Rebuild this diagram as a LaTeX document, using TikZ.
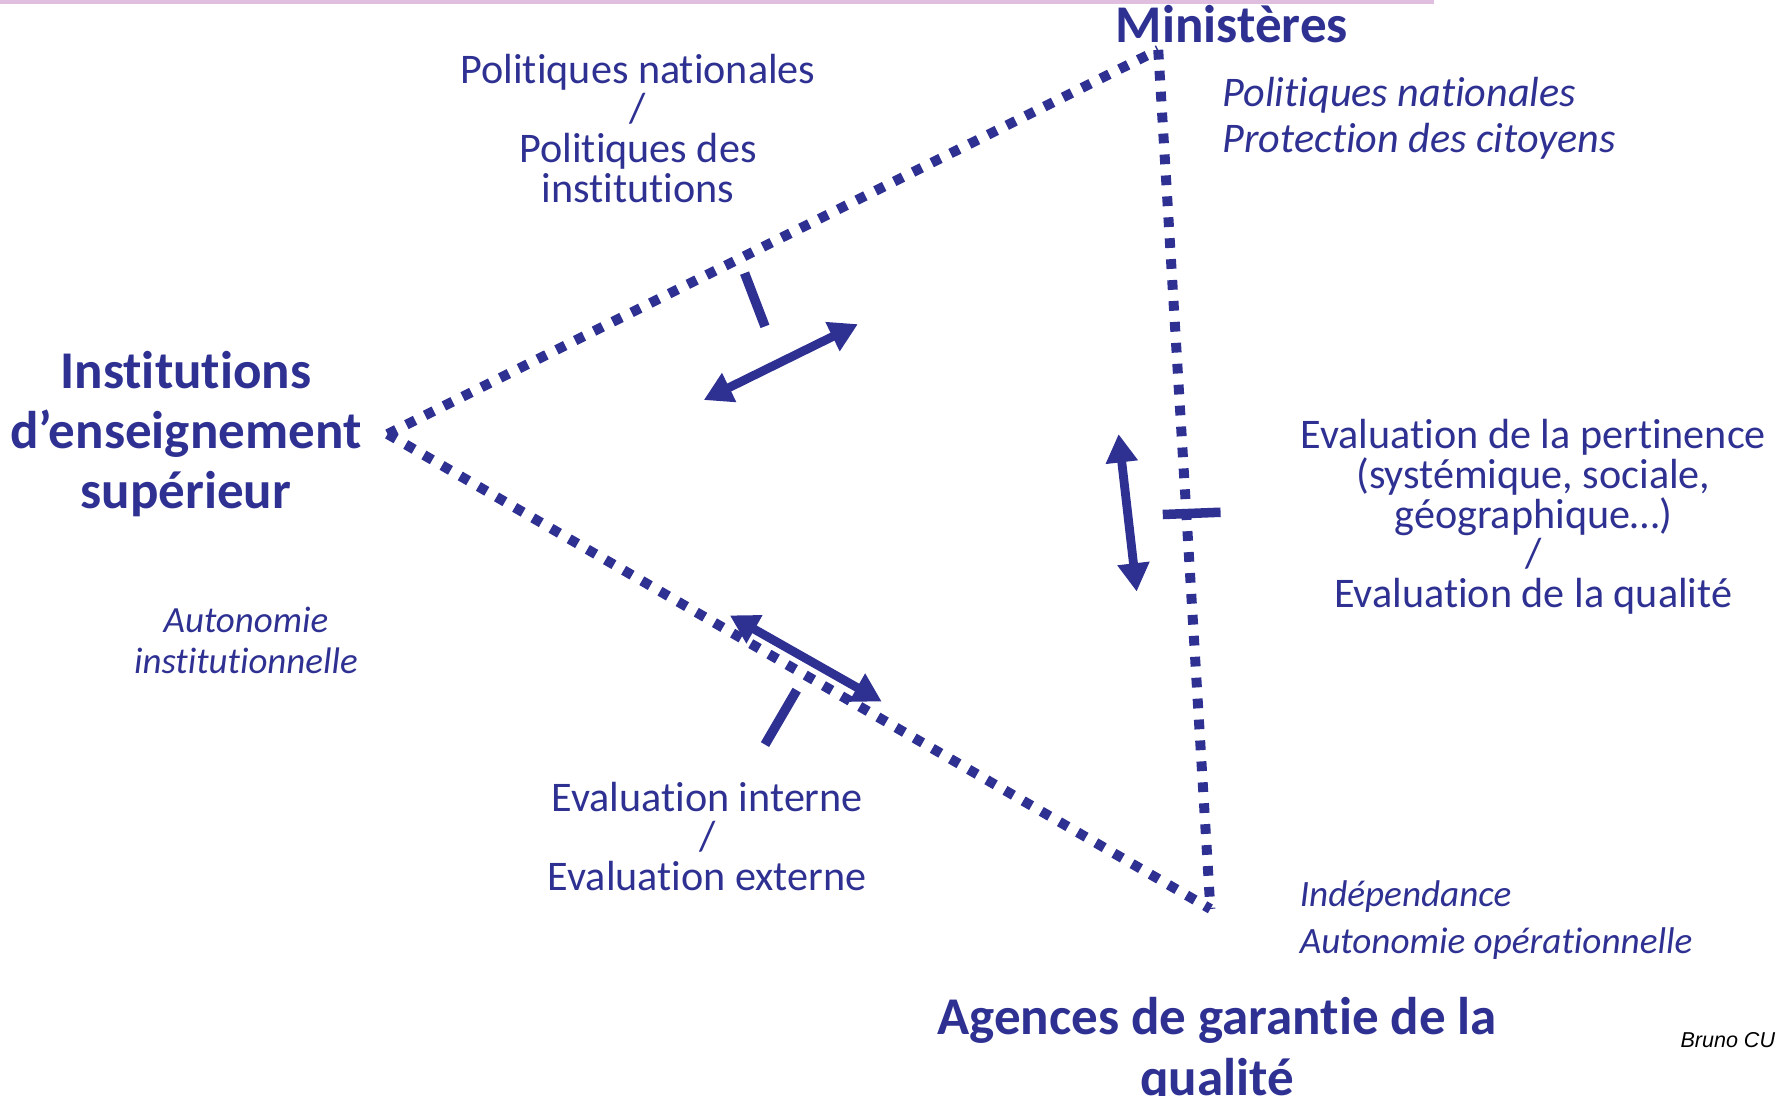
\documentclass[tikz,border=0pt]{standalone}
\usepackage{fontspec}
\setmainfont{Carlito}[Ligatures=NoCommon]
\newfontfamily\arialfont{Liberation Sans}
\usetikzlibrary{arrows.meta}
\definecolor{bleuQA}{RGB}{46,49,146}
\definecolor{roseQA}{RGB}{224,190,224}

\tikzset{
  pointille/.style={draw=bleuQA, line width=4.4pt, dash pattern=on 4.3pt off 4.95pt},
  fleche/.style={draw=bleuQA, line width=3.9pt, {Triangle[length=12.5pt,width=13.5pt]}-{Triangle[length=12.5pt,width=13.5pt]}},
  trait/.style={draw=bleuQA, line width=4.2pt},
  titre/.style={text=bleuQA, font=\fontsize{23.4}{26.5}\selectfont\bfseries, align=center, inner sep=0.75pt},
  texte/.style={text=bleuQA, font=\fontsize{18.6}{17.5}\selectfont, align=center, inner sep=0.75pt},
  note/.style={text=bleuQA, font=\fontsize{18.6}{20.5}\selectfont\itshape, align=left, inner sep=0.75pt},
  petitenote/.style={text=bleuQA, font=\fontsize{16.3}{18}\selectfont\itshape, align=center, inner sep=0.75pt}
}

\begin{document}
\begin{tikzpicture}[x=0.5pt,y=0.5pt,yscale=-1,xscale=1]
\useasboundingbox (0,0) rectangle (1568,967);

%Shape: Rectangle (top band)
\fill [roseQA] (0,0) rectangle (1265,3.5);

% corners of the triangle
\coordinate (ies) at (342,383);
\coordinate (min) at (1022,44);
\coordinate (agq) at (1068,802);

%Straight Lines
\draw [pointille] (ies) -- (min);
\draw [pointille] (min) -- (agq);
\draw [pointille] (ies) -- (agq);

% ends of the marks and arrows
\coordinate (t1a) at (657,241);
\coordinate (t1b) at (675,288);
\coordinate (f1a) at (621,353);
\coordinate (f1b) at (757,286);
\coordinate (t2a) at (1026,454);
\coordinate (t2b) at (1077,452);
\coordinate (f2a) at (987,383);
\coordinate (f2b) at (1003,522);
\coordinate (t3a) at (703,609);
\coordinate (t3b) at (675,657);
\coordinate (f3a) at (644,543);
\coordinate (f3b) at (778,619);

%Straight Lines
\draw [trait] (t1a) -- (t1b);
\draw [trait] (t2a) -- (t2b);
\draw [trait] (t3a) -- (t3b);
%Double arrows
\draw [fleche] (f1a) -- (f1b);
\draw [fleche] (f2a) -- (f2b);
\draw [fleche] (f3a) -- (f3b);

% Text Node
\draw (1087,21) node (ministeres) [titre] {Ministères};
% Text Node
\draw (164,383) node (institutions) [titre] {Institutions\\d’enseignement\\supérieur};
% Text Node
\draw (1074,927) node (agences) [titre] {Agences de garantie de la\\qualité};
% Text Node
\draw (563,113) node (politiques) [texte] {Politiques nationales\\/\\Politiques des\\institutions};
% Text Node
\draw (1077,104.5) node (protection) [note, anchor=west] {Politiques nationales\\Protection des citoyens};
% Text Node
\draw (1353,456) node (pertinence) [texte] {Evaluation de la pertinence\\(systémique, sociale,\\géographique…)\\/\\Evaluation de la qualité};
% Text Node
\draw (624,738) node (evaluation) [texte] {Evaluation interne\\/\\Evaluation externe};
% Text Node
\draw (217,565) node (autonomie) [petitenote] {Autonomie\\institutionnelle};
% Text Node
\draw (1145,812) node (independance) [petitenote, anchor=west, align=left, font=\fontsize{16.4}{20.5}\selectfont\itshape] {Indépendance\\Autonomie opérationnelle};
% Text Node
\draw (1481,918) node (auteur) [anchor=west, inner sep=0.75pt, font=\arialfont\itshape\fontsize{9.5}{11}\selectfont] {Bruno CU};

\end{tikzpicture}
\end{document}
